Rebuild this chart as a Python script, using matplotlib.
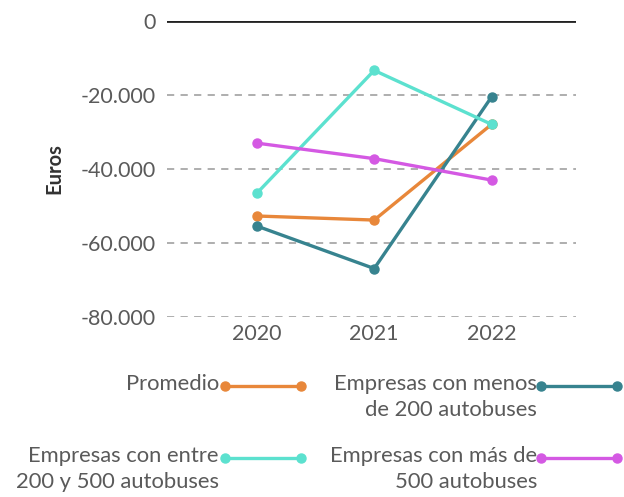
import matplotlib
matplotlib.use("Agg")
import matplotlib.pyplot as plt
from matplotlib.lines import Line2D
from matplotlib.ticker import FuncFormatter

years = ["2020", "2021", "2022"]
promedio = [-52700, -53800, -27900]
menos_200 = [-55400, -66900, -20450]
entre_200_500 = [-46600, -13350, -27950]
mas_500 = [-33000, -37200, -43000]

series = [
    ("Promedio", promedio, "#E8873A"),
    ("Empresas con menos\nde 200 autobuses", menos_200, "#37838F"),
    ("Empresas con entre\n200 y 500 autobuses", entre_200_500, "#5CE1CF"),
    ("Empresas con más de\n500 autobuses", mas_500, "#D459E3"),
]

FONT = "Lato"
W, H = 624, 497
fig = plt.figure(figsize=(W / 100, H / 100), dpi=100)
ax = fig.add_axes([167 / W, 1 - 317 / H, (576 - 167) / W, (317 - 21) / H])

x = list(range(len(years)))
for label, vals, col in series:
    ax.plot(x, vals, color=col, lw=2.4, marker="o", ms=6.5, clip_on=False, zorder=3)

ax.set_ylim(-80000, 0)
ax.set_xlim(-0.763, 2.717)
yt = [0, -20000, -40000, -60000, -80000]
ax.set_yticks(yt)
ax.yaxis.set_major_formatter(FuncFormatter(lambda v, p: f"{int(v):,}".replace(",", ".")))
ax.set_xticks(x)
ax.set_xticklabels(years)
for v in yt[1:]:
    ax.axhline(v, color="#A8A8A8", lw=1.3, ls=(0, (4, 3.5)), zorder=1)
ax.axhline(0, color="#222222", lw=2, zorder=2)
for s in ax.spines.values():
    s.set_visible(False)
ax.tick_params(length=0, labelsize=15.5, labelcolor="#5A5A5A", pad=8)
ax.tick_params(axis="x", pad=5)
for t in ax.get_xticklabels() + ax.get_yticklabels():
    t.set_fontfamily(FONT)
ax.set_ylabel("Euros", fontsize=14.5, fontweight="bold", color="#333333", labelpad=12, family=FONT)

# legend drawn manually: text right-aligned, handle to its right, aligned with first line
leg = [
    (series[0], 219, 374, 225, 301),
    (series[1], 537, 374, 541, 617),
    (series[2], 219, 446, 225, 301),
    (series[3], 537, 446, 541, 617),
]
for (label, vals, col), tx, ty, hx0, hx1 in leg:
    fig.text(tx / W, 1 - ty / H, label, ha="right", va="top", multialignment="right",
             fontsize=15.8, color="#5A5A5A", family=FONT, linespacing=1.4)
    hy = 1 - (ty + 12) / H
    fig.add_artist(Line2D([hx0 / W, hx1 / W], [hy, hy], transform=fig.transFigure,
                          color=col, lw=2.4, marker="o", ms=6.5))
fig.savefig("out.png", dpi=100)
